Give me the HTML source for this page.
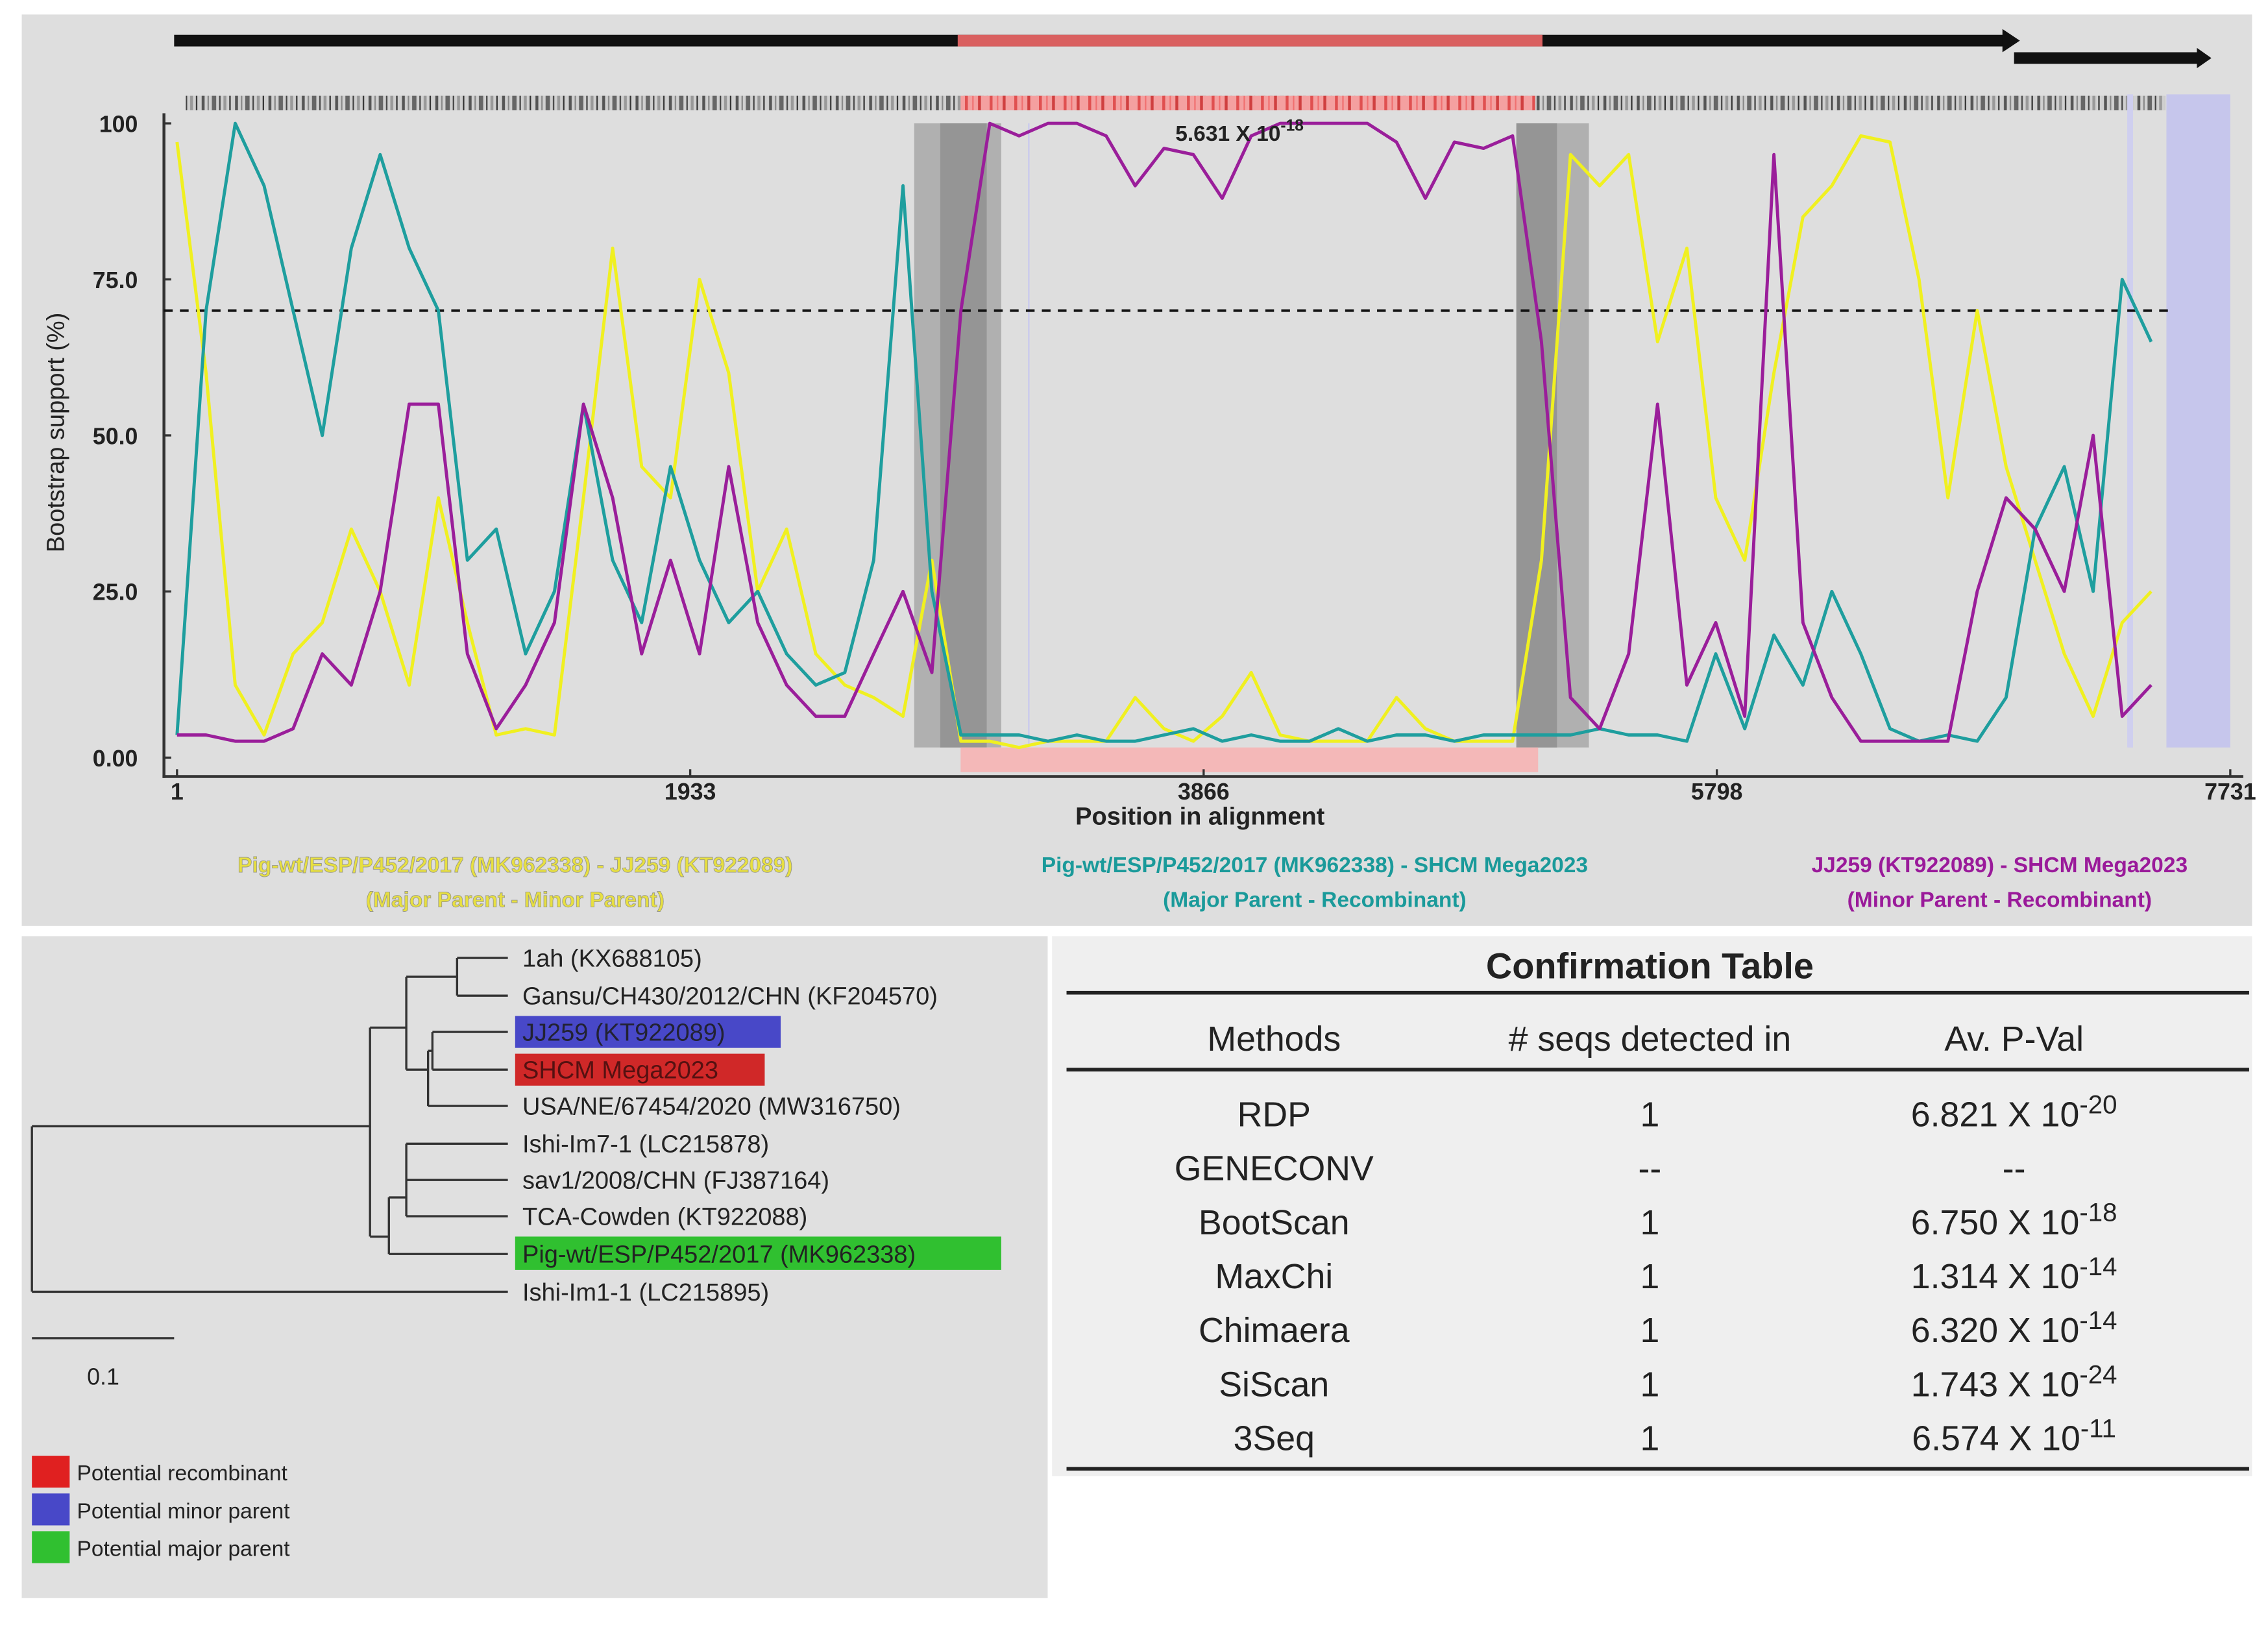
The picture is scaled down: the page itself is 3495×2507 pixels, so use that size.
<!DOCTYPE html>
<html><head><meta charset="utf-8">
<style>
html,body{margin:0;padding:0;background:#fff;}
svg{display:block;font-family:"Liberation Sans",sans-serif;}
</style></head>
<body>
<svg id="fig" width="3495" height="2507" viewBox="0 0 1563 1121" preserveAspectRatio="none" xmlns="http://www.w3.org/2000/svg">
<defs>
<pattern id="bars" width="23" height="10" patternUnits="userSpaceOnUse">
<rect width="23" height="10" fill="#d0d0d0"/>
<rect x="1" width="2" height="10" fill="#555"/><rect x="5" width="1" height="10" fill="#888"/><rect x="8" width="3" height="10" fill="#666"/><rect x="13" width="1" height="10" fill="#444"/><rect x="16" width="2" height="10" fill="#999"/><rect x="20" width="1" height="10" fill="#333"/>
</pattern>
<pattern id="pbars" width="17" height="10" patternUnits="userSpaceOnUse">
<rect width="17" height="10" fill="#f4a0a0"/>
<rect x="2" width="2" height="10" fill="#e05050"/><rect x="7" width="1" height="10" fill="#f07070"/><rect x="11" width="2" height="10" fill="#d04040"/>
</pattern>
</defs>
<!-- top panel -->
<rect x="15" y="10" width="1537" height="628" fill="#dedede"/>
<g>
<rect x="120" y="24" width="1262" height="8" fill="#111"/>
<polygon points="1380,20 1392,28 1380,36" fill="#111"/>
<rect x="660" y="24" width="403" height="8" fill="#d96060"/>
<rect x="1388" y="36" width="128" height="8" fill="#111"/>
<polygon points="1514,33 1524,40 1514,47" fill="#111"/>
</g>
<rect x="128" y="66" width="1364" height="10" fill="url(#bars)"/>
<rect x="662" y="66" width="396" height="10" fill="url(#pbars)"/>
<g id="bands">
<rect x="630" y="85" width="60" height="430" fill="#b0b0b0"/>
<rect x="648" y="85" width="32" height="430" fill="#959595"/>
<rect x="1045" y="85" width="50" height="430" fill="#b0b0b0"/>
<rect x="1045" y="85" width="28" height="430" fill="#959595"/>
<rect x="662" y="515" width="398" height="17" fill="#f4b8b8"/>
<rect x="1493" y="65" width="44" height="450" fill="#c6c6ec"/>
<rect x="1466" y="65" width="4" height="450" fill="#cfcfef"/>
<line x1="709" y1="85" x2="709" y2="515" stroke="#c8c8ee" stroke-width="1"/>
</g>
<g id="axes"></g>
<g id="series"></g>
<text x="810" y="97" font-size="15" font-weight="bold" fill="#222">5.631 X 10<tspan dy="-7" font-size="11">-18</tspan></text>
<text x="827" y="568" font-size="17" font-weight="bold" text-anchor="middle" fill="#222">Position in alignment</text>
<text transform="translate(44,298) rotate(-90)" font-size="17" text-anchor="middle" fill="#222">Bootstrap support (%)</text>
<g font-size="15" font-weight="bold" text-anchor="middle" stroke-width="0.4">
<text x="355" y="601" fill="#e8e040" stroke="#998">Pig-wt/ESP/P452/2017 (MK962338) - JJ259 (KT922089)</text>
<text x="355" y="625" fill="#e8e040" stroke="#998">(Major Parent - Minor Parent)</text>
<text x="906" y="601" fill="#1a9a9a">Pig-wt/ESP/P452/2017 (MK962338) - SHCM Mega2023</text>
<text x="906" y="625" fill="#1a9a9a">(Major Parent - Recombinant)</text>
<text x="1378" y="601" fill="#9a1a9a">JJ259 (KT922089) - SHCM Mega2023</text>
<text x="1378" y="625" fill="#9a1a9a">(Minor Parent - Recombinant)</text>
</g>
<!-- tree panel -->
<rect x="15" y="645" width="707" height="456" fill="#e0e0e0"/>
<g stroke="#333" stroke-width="1.5" fill="none">
<path d="M22,776V890 M22,776H255 M22,890H350 M255,708V852 M255,708H280 M280,673V737 M280,673H315 M315,660V686 M315,660H350 M315,686H350 M280,737H295 M295,724V762 M295,724H298 M298,711V737 M298,711H350 M298,737H350 M295,762H350 M255,852H268 M268,825V864 M268,825H280 M280,788V838 M280,788H350 M280,813H350 M280,838H350 M268,864H350"/>
</g>
<rect x="355" y="700" width="183" height="22" fill="#4848c8"/>
<rect x="355" y="726" width="172" height="22" fill="#d02828"/>
<rect x="355" y="852" width="335" height="23" fill="#30c030"/>
<g font-size="17" fill="#222">
<text x="360" y="666">1ah (KX688105)</text>
<text x="360" y="692">Gansu/CH430/2012/CHN (KF204570)</text>
<text x="360" y="717" fill="#223">JJ259 (KT922089)</text>
<text x="360" y="743" fill="#511">SHCM Mega2023</text>
<text x="360" y="768">USA/NE/67454/2020 (MW316750)</text>
<text x="360" y="794">Ishi-Im7-1 (LC215878)</text>
<text x="360" y="819">sav1/2008/CHN (FJ387164)</text>
<text x="360" y="844">TCA-Cowden (KT922088)</text>
<text x="360" y="870">Pig-wt/ESP/P452/2017 (MK962338)</text>
<text x="360" y="896">Ishi-Im1-1 (LC215895)</text>
</g>
<line x1="22" y1="922" x2="120" y2="922" stroke="#333" stroke-width="1.5"/>
<text x="60" y="954" font-size="16" fill="#222">0.1</text>
<g font-size="15" fill="#222">
<rect x="22" y="1003" width="26" height="22" fill="#e02020"/><text x="53" y="1020">Potential recombinant</text>
<rect x="22" y="1029" width="26" height="22" fill="#4848c8"/><text x="53" y="1046">Potential minor parent</text>
<rect x="22" y="1055" width="26" height="22" fill="#30c030"/><text x="53" y="1072">Potential major parent</text>
</g>
<!-- table -->
<rect x="725" y="645" width="827" height="372" fill="#efefef"/>
<g fill="#222" font-size="24" text-anchor="middle">
<text x="1137" y="674" font-weight="bold" font-size="25">Confirmation Table</text>
<line x1="735" y1="684" x2="1550" y2="684" stroke="#222" stroke-width="2.5"/>
<text x="878" y="724">Methods</text>
<text x="1137" y="724"># seqs detected in</text>
<text x="1388" y="724">Av. P-Val</text>
<line x1="735" y1="737" x2="1550" y2="737" stroke="#222" stroke-width="2.5"/>
<g id="rows"></g>
<line x1="735" y1="1012" x2="1550" y2="1012" stroke="#222" stroke-width="2.5"/>
</g>
<script>
const positions=[1,110,220,329,438,548,657,766,875,985,1094,1203,1313,1422,1531,1641,1750,1859,1968,2078,2187,2296,2406,2515,2624,2734,2843,2952,3061,3171,3280,3389,3499,3608,3717,3827,3936,4045,4154,4264,4373,4482,4592,4701,4810,4920,5029,5138,5247,5357,5466,5575,5685,5794,5903,6013,6122,6231,6340,6450,6559,6668,6778,6887,6996,7106,7215,7324,7433];
const yellowVals=[97,60,10,2,15,20,35,25,10,40,20,2,3,2,40,80,45,40,75,60,25,35,15,10,8,5,30,1,1,0,1,1,1,8,3,1,5,12,2,1,1,1,8,3,1,1,1,30,95,90,95,65,80,40,30,60,85,90,98,97,75,40,70,45,30,15,5,20,25];
const tealVals=[2,70,100,90,70,50,80,95,80,70,30,35,15,25,55,30,20,45,30,20,25,15,10,12,30,90,25,2,2,2,1,2,1,1,2,3,1,2,1,1,3,1,2,2,1,2,2,2,2,3,2,2,1,15,3,18,10,25,15,3,1,2,1,8,35,45,25,75,65];
const purpleVals=[2,2,1,1,3,15,10,25,55,55,15,3,10,20,55,40,15,30,15,45,20,10,5,5,15,25,12,70,100,98,100,100,98,90,96,95,88,98,100,100,100,100,97,88,97,96,98,65,8,3,15,55,10,20,5,95,20,8,1,1,1,1,25,40,35,25,50,5,10];
const yTicks=[0,25,50,75,100];
const yTickLabels=["0.00","25.0","50.0","75.0","100"];
const xTicks=[1,1933,3866,5798,7731];
const threshold=70;
const methods=["RDP","GENECONV","BootScan","MaxChi","Chimaera","SiScan","3Seq"];
const seqCounts=["1","--","1","1","1","1","1"];
const pMantissa=["6.821","--","6.750","1.314","6.320","1.743","6.574"];
const pExp=["-20","","-18","-14","-14","-24","-11"];

const NS="http://www.w3.org/2000/svg";
const X=p=>122+(p-1)*(1537-122)/(7731-1);
const Y=v=>515-v*4.3;
function mk(tag,attrs,parent){const e=document.createElementNS(NS,tag);for(const k in attrs)e.setAttribute(k,attrs[k]);parent.appendChild(e);return e;}
const ax=document.getElementById('axes');
let a=mk('line',{x1:113,y1:78,x2:113,y2:536,stroke:'#333','stroke-width':2},ax);


a=mk('line',{x1:112,y1:535,x2:1546,y2:535,stroke:'#333','stroke-width':2},ax);


yTicks.forEach((v,i)=>{
  mk('line',{x1:113,y1:Y(v)+(v===0?7:0),x2:118,y2:Y(v)+(v===0?7:0),stroke:'#333','stroke-width':1.5},ax);
  const t=mk('text',{x:95,y:Y(v)+(v===0?7:0)+6,'font-size':16,'font-weight':'bold','text-anchor':'end',fill:'#222'},ax);
  
  
  t.textContent=yTickLabels[i];
});
xTicks.forEach(p=>{
  mk('line',{x1:X(p),y1:530,x2:X(p),y2:535,stroke:'#333','stroke-width':1.5},ax);
  const t=mk('text',{x:X(p),y:551,'font-size':16,'font-weight':'bold','text-anchor':'middle',fill:'#222'},ax);
  
  
  t.textContent=String(p);
});
const th=mk('line',{x1:113,y1:Y(threshold),x2:1495,y2:Y(threshold),stroke:'#111','stroke-width':1.8,'stroke-dasharray':'6,5'},ax);


const sg=document.getElementById('series');
[[yellowVals,'#f0f020','series-yellow'],[tealVals,'#1e9e9e','series-teal'],[purpleVals,'#9a1e9a','series-purple']].forEach(([vals,col,name])=>{
  const d=vals.map((v,i)=>(i?'L':'M')+X(positions[i]).toFixed(1)+','+Y(v).toFixed(1)).join(' ');
  const p=mk('path',{d:d,fill:'none',stroke:col,'stroke-width':2.2,'stroke-linejoin':'round'},sg);
  
  
});
const rows=document.getElementById('rows');
methods.forEach((m,i)=>{
  const y=776+i*37.2;
  let t=mk('text',{x:878,y:y},rows);
  
  
  t.textContent=m;
  t=mk('text',{x:1137,y:y},rows);
  
  
  t.textContent=seqCounts[i];
  t=mk('text',{x:1388,y:y},rows);
  
  
  if(pExp[i]){t.textContent=pMantissa[i]+' X 10';const s=mk('tspan',{dy:-9,'font-size':18},t);s.textContent=pExp[i];}
  else t.textContent=pMantissa[i];
});
</script>
</svg>
</body></html>
